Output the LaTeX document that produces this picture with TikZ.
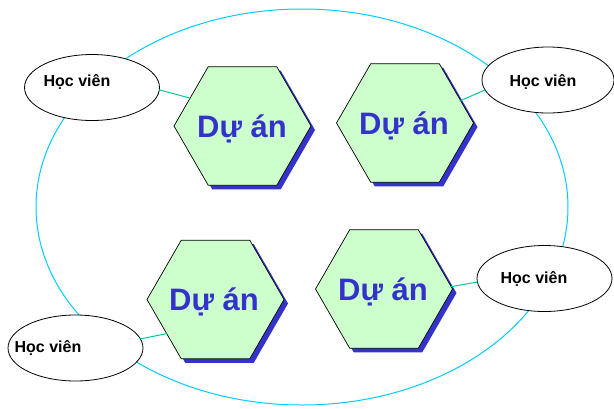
\documentclass[tikz,border=0pt]{standalone}
\usepackage{fontspec}
\setmainfont{Liberation Sans}
\usetikzlibrary{shapes.geometric,shadows}
\definecolor{ringcyan}{RGB}{0,204,255}
\definecolor{linkteal}{RGB}{0,204,153}
\definecolor{hexfill}{RGB}{204,255,204}
\definecolor{hexblue}{RGB}{51,51,204}
\begin{document}
\begin{tikzpicture}[x=1pt,y=-1pt,
  hexnode/.style={regular polygon, regular polygon sides=6, minimum size=137pt,
    inner sep=0pt, outer sep=0pt, draw=black, line width=0.7pt, fill=hexfill,
    drop shadow={shadow xshift=4pt, shadow yshift=-4pt, fill=hexblue, opacity=1}},
  hextext/.style={inner sep=0pt, font=\bfseries\fontsize{31}{31}\selectfont, text=hexblue},
  learner/.style={ellipse, draw=black, line width=0.8pt, fill=white,
    minimum width=135pt, minimum height=66pt, inner sep=0pt, outer sep=0pt},
  learnertext/.style={font=\bfseries\fontsize{16}{16}\selectfont, inner sep=0pt},
  ringstyle/.style={ellipse, draw=ringcyan, line width=1pt, inner sep=0pt,
    minimum width=532pt, minimum height=396pt},
  link/.style={draw=linkteal, line width=1pt}]
\useasboundingbox (0,0) rectangle (614,408);
\node[ringstyle] (ring) at (302,207) {};
% projects
\node[hexnode] (h1) at (242.5,126) {};
\node[hexnode] (h2) at (405,123) {};
\node[hexnode] (h3) at (215.5,299.5) {};
\node[hexnode] (h4) at (384,289) {};
\node[hextext] (p1) at (242,129) {Dự án};
\node[hextext] (p2) at (404,126) {Dự án};
\node[hextext] (p3) at (214,302) {Dự án};
\node[hextext] (p4) at (383,292) {Dự án};
% learners
\node[learner] (e1) at (92,87.5) {};
\node[learner, minimum width=132pt] (e2) at (548,80) {};
\node[learner] (e3) at (75.5,348) {};
\node[learner] (e4) at (544.5,278.5) {};
\node[learnertext] (t1) at (77,82) {Học viên};
\node[learnertext] (t2) at (543,82) {Học viên};
\node[learnertext] (t3) at (48,347.5) {Học viên};
\node[learnertext] (t4) at (534,279) {Học viên};
% links
\draw[link] (e1.-2) -- (h1.152);
\draw[link] (e2.-171) -- (h2.22.5);
\draw[link] (e3.8.7) -- (h3.215.4);
\draw[link] (e4.183.8) -- (h4.2.5);
\end{tikzpicture}
\end{document}
